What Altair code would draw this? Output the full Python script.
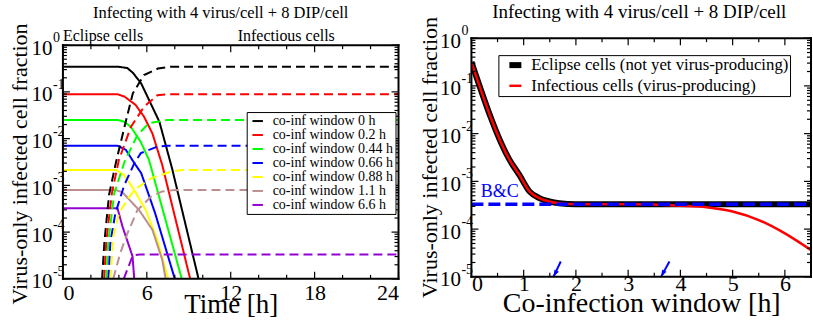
import altair as alt
import pandas as pd

FONT = "Liberation Serif"

# ---------------- Left panel data (time courses) ----------------
window_labels = ["co-inf window 0 h", "co-inf window 0.2 h", "co-inf window 0.44 h",
                 "co-inf window 0.66 h", "co-inf window 0.88 h", "co-inf window 1.1 h",
                 "co-inf window 6.6 h"]
window_colors = ["#000000", "#ff0000", "#00ff00", "#0000ff", "#ffff00", "#bc8f8f", "#9400d3"]

# Eclipse cells (solid lines)
ecl_time = [
    [0, 3.9, 4.6, 5.0, 5.6, 6.9, 7.8, 9.7],
    [0, 3.9, 4.4, 5.2, 5.8, 6.4, 7.1, 9.1],
    [0, 3.9, 4.4, 4.86, 5.57, 6.16, 8.5],
    [0, 3.9, 4.5, 5.1, 5.6, 6.6, 8.0],
    [0, 3.8, 4.38, 5.1, 5.93, 6.76, 7.53],
    [0, 3.8, 4.26, 5.45, 6.4, 7.1, 7.35],
    [0, 3.9, 4.26, 4.98, 5.1],
]
ecl_frac = [
    [0.347, 0.347, 0.324, 0.257, 0.151, 0.0229, 0.00234, 1e-5],
    [0.0891, 0.0891, 0.0794, 0.0525, 0.0295, 0.0129, 0.00275, 1e-5],
    [0.0251, 0.0251, 0.0229, 0.0178, 0.00851, 0.00347, 1e-5],
    [0.00708, 0.00708, 0.00575, 0.00302, 0.00182, 0.000251, 1e-5],
    [0.00214, 0.00214, 0.00166, 0.000794, 0.000295, 6.76e-5, 1e-5],
    [0.000794, 0.000794, 0.000708, 0.000295, 0.000112, 2.57e-5, 1e-5],
    [0.000324, 0.000324, 0.000132, 3.02e-5, 1e-5],
]
# Infectious cells (dashed lines)
inf_time = [
    [2.8, 2.97, 3.3, 3.8, 4.4, 5.0, 5.8, 6.8, 7.7, 24],
    [2.95, 3.1, 3.5, 4.0, 4.86, 5.8, 6.76, 7.5, 24],
    [3.1, 3.25, 3.67, 4.4, 5.33, 6.16, 7.47, 24],
    [3.25, 3.4, 3.75, 4.38, 5.1, 5.57, 6.76, 7.5, 24],
    [3.4, 3.6, 4.0, 4.62, 5.1, 6.3, 7.7, 8.5, 24],
    [3.6, 4.1, 4.62, 5.33, 6.3, 7.1, 8.0, 24],
    [4.35, 5.0, 5.5, 24],
]
inf_frac = [
    [1e-5, 6.31e-5, 0.000631, 0.00316, 0.0178, 0.0933, 0.229, 0.316, 0.347, 0.347],
    [1e-5, 6.31e-5, 0.000676, 0.00347, 0.0178, 0.0479, 0.0851, 0.0891, 0.0891],
    [1e-5, 6.31e-5, 0.000676, 0.00316, 0.0120, 0.0214, 0.0251, 0.0251],
    [1e-5, 6.31e-5, 0.000251, 0.001, 0.00295, 0.0049, 0.00676, 0.00708, 0.00708],
    [1e-5, 7.94e-5, 0.000251, 0.000501, 0.000794, 0.00141, 0.00195, 0.00214, 0.00214],
    [1e-5, 3.55e-5, 9.55e-5, 0.000295, 0.000575, 0.000741, 0.000794, 0.000794],
    [1e-5, 3.16e-5, 3.31e-5, 3.31e-5],
]

# ---------------- Right panel data (vs co-infection window) ----------------
cw = [0, 0.73, 0.92, 1.11, 1.30, 1.49, 1.68, 2.0, 3.0, 4.0, 4.5, 5.0, 5.5, 6.0, 6.5]
eclipse_frac = [0.316, 0.00282, 0.00135, 0.000617, 0.000447, 0.00038, 0.000347, 0.000331,
                0.000331, 0.000331, 0.000331, 0.000331, 0.000331, 0.000331, 0.000331]
infectious_frac = [0.316, 0.00282, 0.00135, 0.000617, 0.000447, 0.00038, 0.000347, 0.000331,
                   0.000331, 0.000309, 0.000288, 0.000234, 0.000155, 8.13e-5, 3.63e-5]
bc_x = [0, 6.5]
bc_frac = [0.00033, 0.00033]
arrow_x_tail = [1.71, 3.79]
arrow_x_head = [1.57, 3.63]
arrow_y_tail = [2.1e-5, 2.1e-5]
arrow_y_head = [1.0e-5, 1.0e-5]

series_names = ["Eclipse cells (not yet virus-producing)", "Infectious cells (virus-producing)"]

TITLE = "Infecting with 4 virus/cell + 8 DIP/cell"
Y_TITLE = "Virus-only infected cell fraction"

# tick values
decades = [1, 0.1, 0.01, 0.001, 0.0001, 0.00001]
exponents = ["0", "-1", "-2", "-3", "-4", "-5"]
minor_y = [m * d for d in [0.1, 0.01, 0.001, 0.0001, 0.00001] for m in range(2, 10)]
left_x_major = [0, 6, 12, 18, 24]
left_x_minor = [2, 4, 8, 10, 14, 16, 20, 22]
right_x_major = [0, 1, 2, 3, 4, 5, 6]
right_x_minor = [0.5, 1.5, 2.5, 3.5, 4.5, 5.5, 6.5]

# ---------------- build tables ----------------
rows = []
for w, ts, vs in zip(window_labels, ecl_time, ecl_frac):
    for t, v in zip(ts, vs):
        rows.append({"window": w, "kind": "eclipse", "x": t, "v": v})
for w, ts, vs in zip(window_labels, inf_time, inf_frac):
    for t, v in zip(ts, vs):
        rows.append({"window": w, "kind": "infectious", "x": t, "v": v})
left_df = pd.DataFrame(rows)

ecl_df = pd.DataFrame({"x": cw, "v": eclipse_frac, "series": series_names[0]})
inf_df = pd.DataFrame({"x": cw, "v": infectious_frac, "series": series_names[1]})
bc_df = pd.DataFrame({"x": bc_x, "v": bc_frac})
arrow_df = pd.DataFrame({"x": arrow_x_tail, "v": arrow_y_tail, "x2": arrow_x_head, "v2": arrow_y_head})
exp_df = pd.DataFrame({"v": decades, "e": exponents})

# ---------------- geometry ----------------
LTOP = 7            # left frame starts 7 px below the shared row top
LW, LH = 336, 241
RW, RH = 340, 239
DEC_L = (LH - LTOP) / 5.0

# ---------------- scales & axes ----------------
lxs = alt.Scale(domain=[0, 24], nice=False, zero=False)
lys = alt.Scale(type="log", domain=[1e-5, 10 ** (LTOP / DEC_L)], nice=False)
rxs = alt.Scale(domain=[0, 6.5], nice=False, zero=False)
rys = alt.Scale(type="log", domain=[1e-5, 1], nice=False)


def y_axis():
    return alt.Axis(values=decades, labelExpr="'10'", ticks=False, domain=False, grid=False,
                    labelFont=FONT, labelFontSize=21, labelPadding=11, labelOffset=3,
                    labelColor="black", title=None)


LX_AXIS = alt.Axis(values=left_x_major, format="d", ticks=False, domain=False, grid=False,
                   labelFont=FONT, labelFontSize=22, labelPadding=4, labelColor="black",
                   title="Time [h]", titleFont=FONT, titleFontSize=27, titleFontWeight="normal",
                   titleColor="black", titleY=34, titleBaseline="alphabetic")
LY_AXIS = y_axis()
RX_AXIS = alt.Axis(values=right_x_major, format="d", ticks=False, domain=False, grid=False,
                   labelFont=FONT, labelFontSize=22, labelPadding=-3, labelColor="black",
                   title="Co-infection window [h]", titleFont=FONT, titleFontSize=28,
                   titleFontWeight="normal", titleColor="black", titleY=35,
                   titleBaseline="alphabetic")
RY_AXIS = y_axis()


def LX(f="x"):
    return alt.X(f + ":Q", scale=lxs, axis=LX_AXIS)


def LY(f="v"):
    return alt.Y(f + ":Q", scale=lys, axis=LY_AXIS)


def RX(f="x"):
    return alt.X(f + ":Q", scale=rxs, axis=RX_AXIS)


def RY(f="v"):
    return alt.Y(f + ":Q", scale=rys, axis=RY_AXIS)


def frame(XE, YE, xmaj, xmin, W, H, top):
    layers = []
    fr = pd.DataFrame({"x": [0]})
    b = alt.Chart(fr).mark_rule(color="black", strokeWidth=2, strokeCap="square")
    layers.append(b.encode(x=alt.value(0), x2=alt.value(W), y=alt.value(top)))
    layers.append(b.encode(x=alt.value(0), x2=alt.value(W), y=alt.value(H)))
    layers.append(b.encode(x=alt.value(0), y=alt.value(top), y2=alt.value(H)))
    layers.append(b.encode(x=alt.value(W), y=alt.value(top), y2=alt.value(H)))
    for vals, L in [(xmaj, 7), (xmin, 4)]:
        d = pd.DataFrame({"x": vals})
        r = alt.Chart(d).mark_rule(color="black", strokeWidth=1.2)
        layers.append(r.encode(x=XE("x"), y=alt.value(H), y2=alt.value(H - L)))
        layers.append(r.encode(x=XE("x"), y=alt.value(top), y2=alt.value(top + L)))
    for vals, L in [(decades, 7), (minor_y, 4)]:
        d = pd.DataFrame({"v": vals})
        r = alt.Chart(d).mark_rule(color="black", strokeWidth=1.2)
        layers.append(r.encode(y=YE("v"), x=alt.value(0), x2=alt.value(L)))
        layers.append(r.encode(y=YE("v"), x=alt.value(W), x2=alt.value(W - L)))
    return layers


def exp_layer(YE):
    return alt.Chart(exp_df).mark_text(font=FONT, fontSize=14, align="left", baseline="middle",
                                       dy=-7, color="black").encode(
        x=alt.value(-10), y=YE("v"), text="e:N")


def label_layer(text, x, y, size, angle=0):
    return alt.Chart(pd.DataFrame({"t": [text]})).mark_text(
        font=FONT, fontSize=size, align="center", baseline="alphabetic", angle=angle,
        color="black").encode(x=alt.value(x), y=alt.value(y), text="t:N")


# ---------------- Left chart ----------------
left_lines = alt.Chart(left_df).mark_line(strokeWidth=2, clip=True).encode(
    x=LX(), y=LY(),
    color=alt.Color("window:N", scale=alt.Scale(domain=window_labels, range=window_colors),
                    legend=alt.Legend(orient="none", legendX=184, legendY=74, title=None,
                                      labelFont=FONT, labelFontSize=14, labelColor="black",
                                      symbolType="stroke", symbolStrokeWidth=2, symbolSize=110,
                                      symbolOffset=2, strokeColor="black", fillColor="white",
                                      padding=2, rowPadding=-0.7, labelOffset=8, labelLimit=300)),
    strokeDash=alt.StrokeDash("kind:N", scale=alt.Scale(domain=["eclipse", "infectious"],
                                                        range=[[1, 0], [9, 5]]), legend=None),
    detail="kind:N",
)

head_df = pd.DataFrame({"x": [0, 12.5], "v": [1, 1], "label": ["Eclipse cells", "Infectious cells"]})
left_heads = alt.Chart(head_df).mark_text(font=FONT, fontSize=16, align="left", baseline="alphabetic",
                                          dy=-4, color="black").encode(
    x=LX(), y=LY(), text="label:N")

left = alt.layer(left_lines, left_heads, exp_layer(LY),
                 label_layer(TITLE, 158, -20, 16.5),
                 label_layer(Y_TITLE, -36, 126, 22, 270),
                 *frame(LX, LY, left_x_major, left_x_minor, LW, LH, LTOP)).properties(
    width=LW, height=LH)

# ---------------- Right chart ----------------
ser_color = alt.Scale(domain=series_names, range=["#000000", "#ff0000"])
ser_width = alt.Scale(domain=series_names, range=[6, 2.5])
r_legend = alt.Legend(orient="none", legendX=27, legendY=17, title=None, labelFont=FONT,
                      labelFontSize=16.8, labelColor="black", symbolType="stroke", symbolSize=144,
                      strokeColor="black", fillColor="white", padding=1, rowPadding=0.3,
                      symbolOffset=7, labelOffset=7, labelLimit=400)

r_ecl = alt.Chart(ecl_df).mark_line(clip=True, strokeCap="butt", interpolate="monotone").encode(
    x=RX(), y=RY(),
    color=alt.Color("series:N", scale=ser_color, legend=r_legend),
    strokeWidth=alt.StrokeWidth("series:N", scale=ser_width, legend=r_legend),
)
r_inf = alt.Chart(inf_df).mark_line(clip=True, interpolate="monotone").encode(
    x=RX(), y=RY(),
    color=alt.Color("series:N", scale=ser_color, legend=r_legend),
    strokeWidth=alt.StrokeWidth("series:N", scale=ser_width, legend=r_legend),
)
r_bc = alt.Chart(bc_df).mark_line(color="#0000ff", strokeWidth=3.5, strokeDash=[12, 5], clip=True).encode(
    x=RX(), y=RY())
bc_txt = alt.Chart(pd.DataFrame({"x": [0.18], "v": [0.00061], "t": ["B&C"]})).mark_text(
    font=FONT, fontSize=18, color="#0000ff", align="left", baseline="middle").encode(
    x=RX(), y=RY(), text="t:N")
arr_shaft = alt.Chart(arrow_df).mark_rule(color="#0000ff", strokeWidth=2).encode(
    x=RX(), y=RY(), x2="x2:Q", y2="v2:Q")
arr_head = alt.Chart(arrow_df).mark_point(shape="M0,0L-0.35,1L0.35,1Z", filled=True, opacity=1,
                                          color="#0000ff", size=196, angle=208).encode(
    x=RX("x2"), y=RY("v2"))

right = alt.layer(r_ecl, r_inf, r_bc, bc_txt, arr_shaft, arr_head, exp_layer(RY),
                  label_layer(TITLE, 168, -20, 19),
                  label_layer(Y_TITLE, -34, RH / 2, 22, 270),
                  *frame(RX, RY, right_x_major, right_x_minor, RW, RH, 0)).properties(
    width=RW, height=RH)

chart = alt.hconcat(left, right, spacing=18).resolve_scale(
    color="independent", strokeWidth="independent", strokeDash="independent"
).properties(
    padding={"left": 8, "top": 3, "right": 0, "bottom": 0}
).configure_view(stroke=None)

chart.save("out.html", embed_options={"renderer": "svg", "actions": False})
